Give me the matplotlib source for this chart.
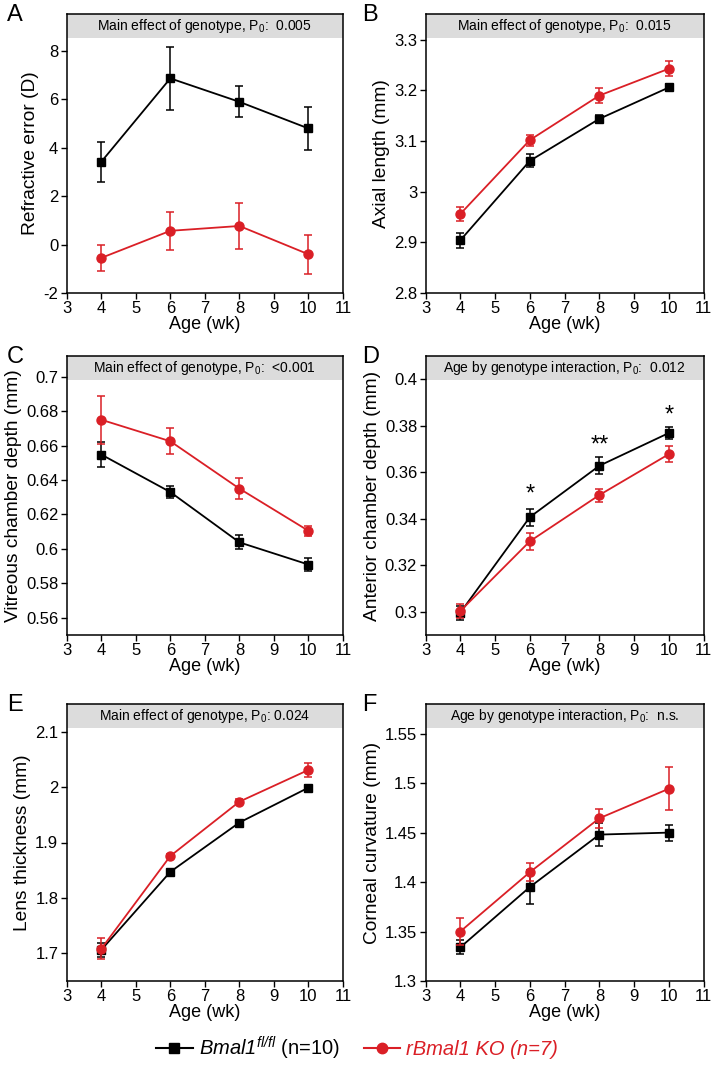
import matplotlib
matplotlib.use("Agg")
import matplotlib.pyplot as plt
from matplotlib.patches import Rectangle
from matplotlib.lines import Line2D

plt.rcParams['font.family'] = ['Liberation Sans', 'DejaVu Sans']
plt.rcParams['mathtext.fontset'] = 'custom'
plt.rcParams['mathtext.rm'] = 'Liberation Sans:italic'
plt.rcParams['mathtext.it'] = 'Liberation Sans:italic'

# ages (weeks)
ages = [4, 6, 8, 10]

# per panel: letter, ylabel, banner, ylim, yticks, yticklabels
letters = ['A', 'B', 'C', 'D', 'E', 'F']
ylabels = ['Refractive error (D)', 'Axial length (mm)', 'Vitreous chamber depth (mm)',
           'Anterior chamber depth (mm)', 'Lens thickness (mm)', 'Corneal curvature (mm)']
banner_txt = ['Main effect of genotype, P$_\\mathregular{0}$:  0.005',
              'Main effect of genotype, P$_\\mathregular{0}$:  0.015',
              'Main effect of genotype, P$_\\mathregular{0}$:  <0.001',
              'Age by genotype interaction, P$_\\mathregular{0}$:  0.012',
              'Main effect of genotype, P$_\\mathregular{0}$: 0.024',
              'Age by genotype interaction, P$_\\mathregular{0}$:  n.s.']
ylims = [(-2, 9.53), (2.8, 3.351), (0.55, 0.712), (0.29, 0.41), (1.65, 2.15), (1.3, 1.58)]
yticks = [[-2, 0, 2, 4, 6, 8],
          [2.8, 2.9, 3.0, 3.1, 3.2, 3.3],
          [0.56, 0.58, 0.6, 0.62, 0.64, 0.66, 0.68, 0.7],
          [0.3, 0.32, 0.34, 0.36, 0.38, 0.4],
          [1.7, 1.8, 1.9, 2.0, 2.1],
          [1.3, 1.35, 1.4, 1.45, 1.5, 1.55]]
yticklabels = [['-2', '0', '2', '4', '6', '8'],
               ['2.8', '2.9', '3', '3.1', '3.2', '3.3'],
               ['0.56', '0.58', '0.6', '0.62', '0.64', '0.66', '0.68', '0.7'],
               ['0.3', '0.32', '0.34', '0.36', '0.38', '0.4'],
               ['1.7', '1.8', '1.9', '2', '2.1'],
               ['1.3', '1.35', '1.4', '1.45', '1.5', '1.55']]

# Bmal1 fl/fl (black squares)
ctrl_mean = [[3.42, 6.87, 5.90, 4.80],
             [2.904, 3.061, 3.144, 3.206],
             [0.6548, 0.633, 0.6038, 0.5909],
             [0.2996, 0.3407, 0.3628, 0.3769],
             [1.706, 1.847, 1.936, 1.999],
             [1.334, 1.395, 1.448, 1.450]]
ctrl_err = [[0.83, 1.31, 0.64, 0.90],
            [0.015, 0.013, 0.008, 0.007],
            [0.0073, 0.0035, 0.004, 0.004],
            [0.003, 0.0037, 0.0036, 0.0025],
            [0.012, 0.004, 0.004, 0.004],
            [0.007, 0.017, 0.012, 0.008]]
# rBmal1 KO (red circles)
ko_mean = [[-0.55, 0.57, 0.77, -0.40],
           [2.956, 3.102, 3.190, 3.243],
           [0.675, 0.6625, 0.635, 0.6105],
           [0.3003, 0.3303, 0.3502, 0.3678],
           [1.708, 1.8756, 1.9737, 2.031],
           [1.350, 1.410, 1.4645, 1.4944]]
ko_err = [[0.53, 0.79, 0.96, 0.80],
          [0.013, 0.011, 0.014, 0.015],
          [0.014, 0.0075, 0.006, 0.003],
          [0.003, 0.0036, 0.0028, 0.0033],
          [0.019, 0.004, 0.005, 0.013],
          [0.014, 0.0093, 0.0098, 0.022]]

# significance stars for panel D
star_x = [6, 8, 10]
star_y = [0.3505, 0.3715, 0.3845]
star_txt = ['*', '**', '*']

red = '#DA1F26'

W, H = 714, 1075
fig = plt.figure(figsize=(W / 100, H / 100), dpi=100)

col_x = [66.7, 425.5]
col_w = [276.3, 278.2]
row_top = [14, 356, 704]
row_h = [279, 279, 277]
letter_x = [7, 362]

axes = []
for i in range(6):
    r, c = divmod(i, 2)
    ax = fig.add_axes([col_x[c] / W, 1 - (row_top[r] + row_h[r]) / H,
                       col_w[c] / W, row_h[r] / H])
    axes.append(ax)

    ax.errorbar(ages, ctrl_mean[i], yerr=ctrl_err[i], color='black', marker='s',
                markersize=6.3, linewidth=1.3, elinewidth=1.1, capsize=2.8, capthick=1.1,
                zorder=3)
    ax.errorbar(ages, ko_mean[i], yerr=ko_err[i], color=red, marker='o',
                markersize=6.5, linewidth=1.3, elinewidth=1.1, capsize=2.8, capthick=1.1,
                zorder=4)

    ax.set_xlim(3, 11)
    ax.set_xticks(range(3, 12))
    ax.set_ylim(*ylims[i])
    ax.set_yticks(yticks[i])
    ax.set_yticklabels(yticklabels[i])
    ax.tick_params(direction='out', length=4, width=1, labelsize=12, pad=2,
                   top=False, right=False)
    for s in ax.spines.values():
        s.set_linewidth(1.1)
    ax.set_xlabel('Age (wk)', fontsize=13, labelpad=0)
    ax.set_ylabel(ylabels[i], fontsize=13.8, labelpad=3)

    # grey banner
    ax.add_patch(Rectangle((0, 0.914), 1, 0.086, transform=ax.transAxes,
                           facecolor='#DCDCDC', edgecolor='none', zorder=1))
    ax.text(0.5, 0.957, banner_txt[i], transform=ax.transAxes, ha='center',
            va='center', fontsize=10, zorder=2)

    fig.text(letter_x[c] / W, 1 - (row_top[r] + 1) / H, letters[i],
             fontsize=17, ha='left', va='center')

for x, y, t in zip(star_x, star_y, star_txt):
    axes[3].text(x, y, t, ha='center', va='center', fontsize=17, zorder=5)

handles = [Line2D([], [], color='black', marker='s', markersize=7, linewidth=1.5),
           Line2D([], [], color=red, marker='o', markersize=7.5, linewidth=1.5)]
labels = [r'$\mathit{Bmal1}^{\mathit{fl/fl}}$ (n=10)', 'rBmal1 KO (n=7)']
leg = fig.legend(handles, labels, loc='center', bbox_to_anchor=(0.5, 1 - 1048 / H),
                 ncol=2, frameon=False, fontsize=14.5, handlelength=1.8,
                 handletextpad=0.3, columnspacing=1.2)
leg.get_texts()[1].set_color(red)
leg.get_texts()[1].set_style('italic')

fig.savefig('out.png', dpi=100)
